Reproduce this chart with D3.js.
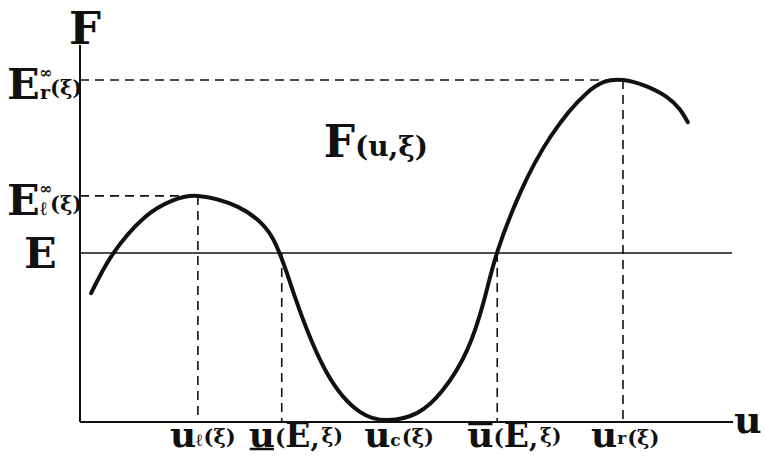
<!DOCTYPE html>
<html>
<head>
<meta charset="utf-8">
<script src="https://cdn.jsdelivr.net/npm/d3@7"></script>
<style>
  body { margin: 0; background: #fff; }
  text { font-family: "DejaVu Serif", "Liberation Serif", serif; font-weight: bold; fill: #111; }
</style>
</head>
<body>
<svg id="plot" width="765" height="462"></svg>
<script>
// curve F(u, xi)
var uCurve = [0.17, 0.50, 0.99, 1.40, 1.80, 2.41, 2.93, 3.28, 3.77, 4.28, 4.70, 5.15, 5.54, 5.91, 6.17, 6.37, 6.72, 7.18, 7.74, 8.29, 8.96, 9.28];
var fCurve = [3.39, 4.42, 5.39, 5.82, 5.95, 5.66, 4.87, 3.30, 1.29, 0.26, 0.05, 0.24, 0.84, 1.89, 3.21, 4.47, 6.03, 7.50, 8.66, 9.00, 8.55, 7.89];

// special points on the u axis
var uMarks = [1.80, 3.08, 4.72, 6.37, 8.29];
var uMarkNames = ["ul", "uE", "uc", "ubarE", "ur"];

// energy levels
var levelNames = ["Er", "El", "E"];
var levelValues = [9.0, 5.95, 4.45];

var svg = d3.select("#plot");

var x = d3.scaleLinear().domain([0, 10]).range([80, 735]);
var y = d3.scaleLinear().domain([0, 10]).range([422, 42]);

var g = svg.append("g");

// axes, drawn as plain lines (no ticks in the figure)
g.append("line")
  .attr("x1", x(0)).attr("x2", x(0))
  .attr("y1", y(0)).attr("y2", 45)
  .attr("stroke", "#111").attr("stroke-width", 2);
g.append("line")
  .attr("x1", x(0)).attr("x2", 733)
  .attr("y1", y(0)).attr("y2", y(0))
  .attr("stroke", "#111").attr("stroke-width", 2);

// level E : solid thin line across
g.append("line")
  .attr("x1", x(0)).attr("x2", 732)
  .attr("y1", y(levelValues[2])).attr("y2", y(levelValues[2]))
  .attr("stroke", "#111").attr("stroke-width", 1.5);

// dashed guides
var dash = "9,6";
function dashed(x1, y1, x2, y2) {
  g.append("line")
    .attr("x1", x1).attr("y1", y1).attr("x2", x2).attr("y2", y2)
    .attr("stroke", "#111").attr("stroke-width", 1.6)
    .attr("stroke-dasharray", dash);
}
dashed(x(0), y(levelValues[0]), x(uMarks[4]), y(levelValues[0]));
dashed(x(uMarks[4]), y(levelValues[0]), x(uMarks[4]), y(0));
dashed(x(0), y(levelValues[1]), x(uMarks[0]), y(levelValues[1]));
dashed(x(uMarks[0]), y(levelValues[1]), x(uMarks[0]), y(0));
dashed(x(uMarks[1]), y(levelValues[2]), x(uMarks[1]), y(0));
dashed(x(uMarks[3]), y(levelValues[2]), x(uMarks[3]), y(0));

// the curve
var line = d3.line()
  .x((d, i) => x(uCurve[i]))
  .y((d, i) => y(fCurve[i]))
  .curve(d3.curveNatural);

g.append("path")
  .datum(uCurve)
  .attr("d", line)
  .attr("fill", "none")
  .attr("stroke", "#111")
  .attr("stroke-width", 4)
  .attr("stroke-linecap", "round");

// text helper: list of [string, size, dy, dx]
function label(px, py, parts, anchor) {
  var t = svg.append("text")
    .attr("x", px).attr("y", py)
    .attr("text-anchor", anchor || "start");
  parts.forEach(p => {
    t.append("tspan")
      .attr("font-size", p[1])
      .attr("dy", p[2] || 0)
      .attr("dx", p[3] || 0)
      .text(p[0]);
  });
  return t;
}

// axis names
label(85, 44, [["F", 45]], "middle");
label(734, 433, [["u", 38]]);

// level labels (E with sup/sub stacked)
function levelLabel(v, sub) {
  var yy = y(v);
  label(7, yy + 19, [["E", 43]]);
  label(39, yy - 2, [["∞", 16]]);
  label(40, yy + 19, [[sub, 19]]);
  label(50, yy + 15, [["(ξ)", 21]]);
}
levelLabel(levelValues[0], "r");
levelLabel(levelValues[1], "ℓ");
label(24, y(levelValues[2]) + 15, [["E", 43]]);

// title
label(x(3.72), y(6.97), [["F", 44], ["(u,ξ)", 28, -1]]);

// labels under the u axis
var base = y(0) + 25;
var t;
label(x(uMarks[0]) - 28, base, [["u", 36], ["ℓ", 17, -1], ["(ξ)", 21, -2, 1]]);

t = label(x(uMarks[1]) - 33, base, [["u", 36], ["(", 22, -2], ["E", 33, 2], [",", 26], ["ξ)", 20, -4, 2]]);
var ub = t.select("tspan").node().getBBox();
svg.append("line")
  .attr("x1", ub.x + 1).attr("x2", ub.x + ub.width - 1)
  .attr("y1", base + 2).attr("y2", base + 2)
  .attr("stroke", "#111").attr("stroke-width", 2.5);

label(x(uMarks[2]) - 25, base, [["u", 36], ["c", 17, -1], ["(ξ)", 21, -2, 1]]);

t = label(x(uMarks[3]) - 30, base, [["u", 36], ["(", 22, -2], ["E", 33, 2], [",", 26], ["ξ)", 20, -4, 2]]);
ub = t.select("tspan").node().getBBox();
svg.append("line")
  .attr("x1", ub.x + 1).attr("x2", ub.x + ub.width - 1)
  .attr("y1", base - 23).attr("y2", base - 23)
  .attr("stroke", "#111").attr("stroke-width", 2.5);

label(x(uMarks[4]) - 32, base, [["u", 36], ["r", 17, -3], ["(ξ)", 21, 1, 1]]);
</script>
</body>
</html>
